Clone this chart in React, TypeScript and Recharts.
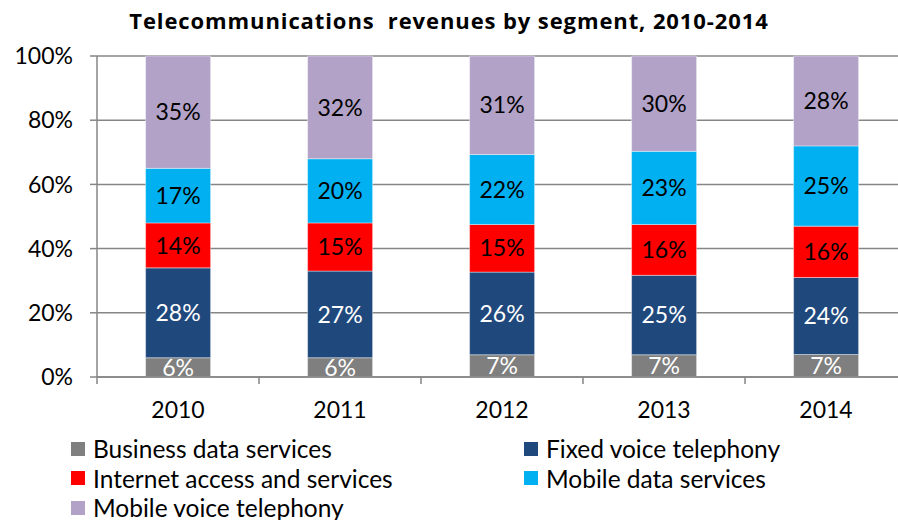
import { BarChart, Bar, XAxis, YAxis, CartesianGrid, LabelList } from "recharts";

const years = ["2010", "2011", "2012", "2013", "2014"];
const businessData = [6, 6, 7, 7, 7];
const fixedVoice = [28, 27, 26, 25, 24];
const internetAccess = [14, 15, 15, 16, 16];
const mobileData = [17, 20, 22, 23, 25];
const mobileVoice = [35, 32, 31, 30, 28];
const yTicks = [0, 0.2, 0.4, 0.6, 0.8, 1];

const SERIES = [
  { key: "business", label: "Business data services", color: "#7f7f7f", text: "#ffffff" },
  { key: "fixed", label: "Fixed voice telephony", color: "#1f497d", text: "#ffffff" },
  { key: "internet", label: "Internet access and services", color: "#ff0000", text: "#000000" },
  { key: "mobileData", label: "Mobile data services", color: "#00b0f0", text: "#000000" },
  { key: "mobileVoice", label: "Mobile voice telephony", color: "#b3a2c7", text: "#000000" },
];

const data = years.map((year, i) => ({
  year,
  business: businessData[i],
  fixed: fixedVoice[i],
  internet: internetAccess[i],
  mobileData: mobileData[i],
  mobileVoice: mobileVoice[i],
}));

const AXIS = "#868686";
const HALF_BAND = 81;

function YearTick(props: any) {
  const { x, index, payload } = props;
  return (
    <g>
      <line x1={x + HALF_BAND} y1={377} x2={x + HALF_BAND} y2={384} stroke={AXIS} strokeWidth={1.5} />
      {index === 0 && <line x1={x - HALF_BAND} y1={377} x2={x - HALF_BAND} y2={384} stroke={AXIS} strokeWidth={1.5} />}
      <text x={x} y={418} textAnchor="middle" fontSize={23} fill="#000">
        {payload.value}
      </text>
    </g>
  );
}

function ChartLegend() {
  return (
    <div
      style={{
        position: "absolute",
        left: 71,
        top: 434,
        display: "grid",
        gridTemplateColumns: "453px 320px",
      }}
    >
      {SERIES.map((s) => (
        <div key={s.key} style={{ display: "flex", alignItems: "center", height: 29.5, fontSize: 24.5, color: "#000" }}>
          <div style={{ width: 14, height: 14, background: s.color, marginRight: 8, flexShrink: 0 }} />
          <span style={{ whiteSpace: "nowrap" }}>{s.label}</span>
        </div>
      ))}
    </div>
  );
}

export default function App() {
  return (
    <div
      style={{
        position: "absolute",
        left: 0,
        top: 0,
        width: 898,
        height: 520,
        overflow: "hidden",
        background: "#fff",
        fontFamily: "Lato, 'Open Sans', sans-serif",
      }}
    >
      <div
        style={{
          position: "absolute",
          top: 5,
          left: 0,
          width: 898,
          textAlign: "center",
          fontFamily: "'Open Sans', sans-serif",
          fontWeight: 700,
          fontSize: 22,
          letterSpacing: 0.9,
          color: "#000",
          whiteSpace: "pre",
        }}
      >
        {"Telecommunications  revenues by segment, 2010-2014"}
      </div>
      <BarChart
        width={920}
        height={520}
        data={data}
        stackOffset="expand"
        barCategoryGap="30%"
        margin={{ top: 56, right: 13, bottom: 113, left: 0 }}
      >
        <CartesianGrid vertical={false} stroke={AXIS} strokeWidth={1.5} />
        <XAxis
          dataKey="year"
          height={30}
          axisLine={{ stroke: AXIS, strokeWidth: 1.5 }}
          tickLine={false}
          tick={<YearTick />}
          interval={0}
        />
        <YAxis
          width={97}
          domain={[0, 1]}
          ticks={yTicks}
          tickFormatter={(v: number) => `${Math.round(v * 100)}%`}
          axisLine={{ stroke: AXIS, strokeWidth: 1.5 }}
          tickLine={{ stroke: AXIS, strokeWidth: 1.5 }}
          tickSize={7}
          tickMargin={17}
          tick={{ fontSize: 23, fill: "#000" }}
        />
        {SERIES.map((s) => (
          <Bar
            key={s.key}
            dataKey={s.key}
            name={s.label}
            stackId="a"
            fill={s.color}
            stroke="#ffffff"
            strokeOpacity={0.5}
            strokeWidth={0.8}
            isAnimationActive={false}
          >
            <LabelList
              dataKey={s.key}
              position="center"
              fill={s.text}
              fontSize={23}
              formatter={(v: any) => `${v}%`}
            />
          </Bar>
        ))}
      </BarChart>
      <ChartLegend />
    </div>
  );
}
